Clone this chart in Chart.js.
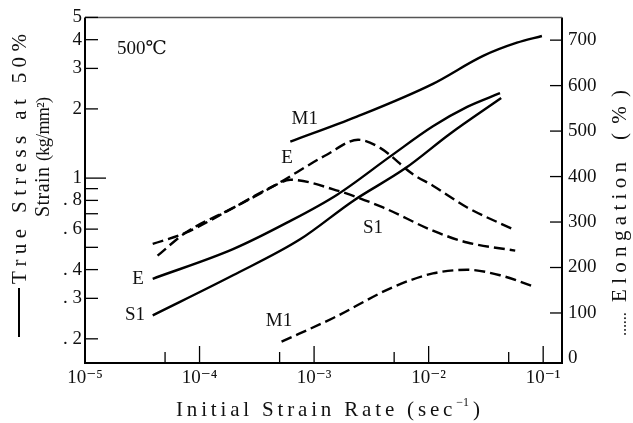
<!DOCTYPE html>
<html><head><meta charset="utf-8">
<script src="https://cdn.jsdelivr.net/npm/chart.js@4/dist/chart.umd.min.js"></script>
<style>html,body{margin:0;padding:0;background:#fff}canvas{display:block}</style>
</head><body>
<canvas id="c" width="633" height="423"></canvas>
<script>
// ---- data ----
// True stress at 50% strain (kg/mm^2), left log axis, solid lines
const rateStressM1 = [6.2e-4, 2.36e-3, 1.09e-2, 2.99e-2, 5.9e-2, 9.75e-2];
const stressM1     = [1.44, 1.85, 2.57, 3.40, 3.88, 4.15];
const rateStressE  = [3.9e-5, 1.96e-4, 5.8e-4, 1.59e-3, 4.6e-3, 1.09e-2, 2.17e-2, 4.2e-2];
const stressE      = [0.365, 0.491, 0.64, 0.847, 1.24, 1.68, 2.04, 2.34];
const rateStressS1 = [3.9e-5, 1.96e-4, 7.55e-4, 2.19e-3, 6.2e-3, 1.54e-2, 4.3e-2];
const stressS1     = [0.253, 0.378, 0.542, 0.796, 1.10, 1.56, 2.23];
// Elongation (%), right linear axis, dashed lines
const rateElongE  = [4.3e-5, 7.5e-5, 1.96e-4, 4.5e-4, 1.29e-3, 2.42e-3, 3.77e-3, 7.3e-3, 1.09e-2, 2.17e-2, 5.47e-2];
const elongE      = [226, 276, 331, 380, 448, 481, 463, 405, 380, 332, 284];
const rateElongS1 = [3.9e-5, 7.5e-5, 1.96e-4, 4.5e-4, 6.2e-4, 1.47e-3, 4.0e-3, 1.09e-2, 2.17e-2, 5.7e-2];
const elongS1     = [252, 276, 331, 380, 393, 372, 332, 281, 255, 237];
const rateElongM1 = [5.2e-4, 1.47e-3, 4.9e-3, 1.09e-2, 2.17e-2, 4.2e-2, 8.5e-2];
const elongM1     = [37, 89, 157, 187, 195, 183, 157];

// ---- ticks ----
const rateTicks        = [1e-5, 1e-4, 1e-3, 1e-2, 1e-1];
const rateTickLabels   = ['10⁻⁵', '10⁻⁴', '10⁻³', '10⁻²', '10⁻¹'];
const rateMinorTicks   = [5e-5, 5e-4, 5e-3, 5e-2];
const stressTicks      = [0.2, 0.3, 0.4, 0.6, 0.8, 1, 2, 3, 4, 5];
const stressTickLabels = ['. 2', '. 3', '. 4', '. 6', '. 8', '1', '2', '3', '4', '5'];
const stressMinorTicks = [0.5, 0.7, 0.9];
const elongTicks       = [0, 100, 200, 300, 400, 500, 600, 700];
const elongTickLabels  = ['0', '100', '200', '300', '400', '500', '600', '700'];

// ---- text labels (anchored in data coordinates of x / left y axis) ----
const curveLabels = [
  {text: '500℃', x: 1.9e-5, y: 3.64, align: 'left'},
  {text: 'M1', x: 8.3e-4, y: 1.81, align: 'center'},
  {text: 'E',  x: 5.8e-4, y: 1.22, align: 'center'},
  {text: 'E',  x: 2.9e-5, y: 0.365, align: 'center'},
  {text: 'S1', x: 2.73e-5, y: 0.253, align: 'center'},
  {text: 'S1', x: 3.27e-3, y: 0.607, align: 'center'},
  {text: 'M1', x: 4.94e-4, y: 0.238, align: 'center'}
];

const SERIF = '"Liberation Serif", "DejaVu Serif", "Noto Sans CJK JP", serif';
const pts = (xs, ys) => xs.map((x, i) => ({x: x, y: ys[i]}));

function solid(data) {
  return {data: data, yAxisID: 'y', borderColor: '#000', borderWidth: 2.4,
          pointRadius: 0, fill: false, cubicInterpolationMode: 'monotone'};
}
function dashed(data) {
  return {data: data, yAxisID: 'y2', borderColor: '#000', borderWidth: 2.4,
          borderDash: [11, 5], pointRadius: 0, fill: false, cubicInterpolationMode: 'monotone'};
}

function spaced(ctx, text, x, y, width) {
  ctx.letterSpacing = '0px';
  const w = ctx.measureText(text).width;
  const ls = (width - w) / Math.max(1, text.length - 1);
  ctx.letterSpacing = ls + 'px';
  ctx.fillText(text, x, y);
  ctx.letterSpacing = '0px';
}

const decor = {
  id: 'decor',
  afterDraw(chart) {
    const ctx = chart.ctx, a = chart.chartArea;
    const sx = chart.scales.x, sy = chart.scales.y, sy2 = chart.scales.y2;
    ctx.save();
    ctx.strokeStyle = '#000';
    const seg = (x1, y1, x2, y2) => { ctx.beginPath(); ctx.moveTo(x1, y1); ctx.lineTo(x2, y2); ctx.stroke(); };
    // frame
    ctx.lineWidth = 2;
    seg(a.left, a.top, a.left, a.bottom);
    seg(a.left - 1, a.bottom, a.right + 1, a.bottom);
    seg(a.right, a.top, a.right, a.bottom);
    ctx.strokeStyle = '#555'; ctx.lineWidth = 1.5;
    seg(a.left, a.top, a.right, a.top);
    ctx.strokeStyle = '#000'; ctx.lineWidth = 1.3;
    // inward tick marks
    rateTicks.forEach(v => { const p = sx.getPixelForValue(v); if (p > a.left + 2 && p < a.right - 2) seg(p, a.bottom, p, a.bottom - 17); });
    rateMinorTicks.forEach(v => { const p = sx.getPixelForValue(v); seg(p, a.bottom, p, a.bottom - 11); });
    stressTicks.concat(stressMinorTicks).forEach(v => {
      const p = sy.getPixelForValue(v); seg(a.left, p, a.left + (v === 1 ? 21 : 13), p);
    });
    elongTicks.forEach(v => { if (v > 0) { const p = sy2.getPixelForValue(v); seg(a.right, p, a.right - 12, p); } });

    // curve labels
    ctx.fillStyle = '#111';
    ctx.textBaseline = 'middle';
    curveLabels.forEach(l => {
      ctx.font = '19px ' + SERIF;
      ctx.textAlign = l.align;
      ctx.fillText(l.text, sx.getPixelForValue(l.x), sy.getPixelForValue(l.y));
    });

    // x axis title
    ctx.textBaseline = 'alphabetic';
    ctx.textAlign = 'left';
    ctx.font = '21px ' + SERIF;
    const main = 'Initial Strain Rate (sec';
    ctx.letterSpacing = '0px';
    const wMain0 = ctx.measureText(main).width;
    ctx.font = '12px ' + SERIF;
    const wSup = ctx.measureText('−1').width + 4;
    ctx.font = '21px ' + SERIF;
    const wPar = ctx.measureText(')').width;
    const ls = (304 - wMain0 - wSup - wPar) / main.length;
    const wMain = wMain0 + ls * main.length;
    let x0 = 176;
    ctx.letterSpacing = ls + 'px';
    ctx.fillText(main, x0, 416);
    ctx.letterSpacing = '0px';
    ctx.font = '12px ' + SERIF;
    ctx.fillText('−1', x0 + wMain, 406);
    ctx.font = '21px ' + SERIF;
    ctx.fillText(')', x0 + wMain + wSup, 416);

    // left title (rotated)
    ctx.lineWidth = 2;
    seg(19, 337, 19, 288);
    ctx.save();
    ctx.translate(26, 284); ctx.rotate(-Math.PI / 2);
    ctx.font = '21px ' + SERIF;
    spaced(ctx, 'True Stress at 50%', 0, 0, 250);
    ctx.restore();
    ctx.save();
    ctx.translate(49, 217); ctx.rotate(-Math.PI / 2);
    ctx.font = '20px ' + SERIF;
    spaced(ctx, 'Strain', 0, 0, 50);
    ctx.font = '18px ' + SERIF;
    spaced(ctx, '(kg/mm²)', 56, 0, 64);
    ctx.restore();

    // right title (rotated)
    ctx.save();
    ctx.translate(626, 336); ctx.rotate(-Math.PI / 2);
    ctx.font = '17px ' + SERIF;
    spaced(ctx, '......', 0, 0, 24);
    ctx.font = '21px ' + SERIF;
    spaced(ctx, 'Elongation', 34, 0, 140);
    spaced(ctx, '(%)', 196, 0, 50);
    ctx.restore();

    ctx.restore();
  }
};

new Chart(document.getElementById('c'), {
  type: 'line',
  data: {
    datasets: [
      solid(pts(rateStressM1, stressM1)),
      solid(pts(rateStressE, stressE)),
      solid(pts(rateStressS1, stressS1)),
      dashed(pts(rateElongE, elongE)),
      dashed(pts(rateElongS1, elongS1)),
      dashed(pts(rateElongM1, elongM1))
    ]
  },
  options: {
    responsive: false,
    animation: false,
    devicePixelRatio: 1,
    events: [],
    layout: {padding: {top: 15, left: 0, right: 0, bottom: 0}},
    plugins: {legend: {display: false}, tooltip: {enabled: false}, title: {display: false}},
    scales: {
      x: {
        type: 'logarithmic', min: 1e-5, max: 0.146, position: 'bottom',
        grid: {display: false, drawTicks: false}, border: {display: false},
        afterBuildTicks: s => { s.ticks = rateTicks.map(v => ({value: v})); },
        afterFit: s => { s.height = 60; },
        ticks: {
          autoSkip: false, maxRotation: 0, padding: 4, color: '#111',
          font: {size: 19, family: SERIF},
          callback: v => rateTickLabels[rateTicks.indexOf(v)] ?? ''
        }
      },
      y: {
        type: 'logarithmic', min: 0.157, max: 5, position: 'left',
        grid: {display: false, drawTicks: false}, border: {display: false},
        afterBuildTicks: s => { s.ticks = stressTicks.map(v => ({value: v})); },
        afterFit: s => { s.width = 85; },
        ticks: {
          autoSkip: false, padding: 3, color: '#111',
          font: {size: 19, family: SERIF},
          callback: v => stressTickLabels[stressTicks.indexOf(v)] ?? ''
        }
      },
      y2: {
        type: 'linear', min: -10, max: 750, position: 'right',
        grid: {display: false, drawTicks: false}, border: {display: false},
        afterBuildTicks: s => { s.ticks = elongTicks.map(v => ({value: v})); },
        afterFit: s => { s.width = 71; },
        ticks: {
          autoSkip: false, padding: 6, color: '#111',
          font: {size: 19, family: SERIF},
          callback: v => elongTickLabels[elongTicks.indexOf(v)] ?? ''
        }
      }
    }
  },
  plugins: [decor]
});
</script>
</body></html>
